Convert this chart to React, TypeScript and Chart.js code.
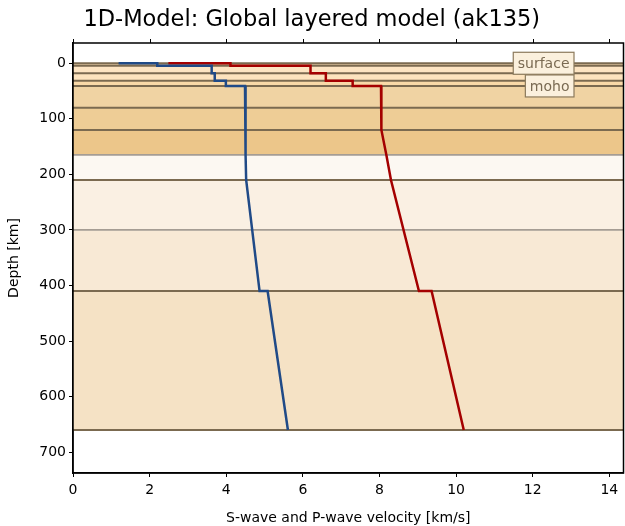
import React, { useEffect, useRef } from "react";
import { Chart, registerables } from "chart.js";

Chart.register(...registerables);

// Layer boundaries (depth, km) and their fills
const layerDepths = [0, 4.3, 18, 31.3, 40.8, 80, 120, 165, 210, 300, 410, 660];
const layerFills = [
  "#f1d6ab",
  "#fde4c2",
  "#fde3be",
  "#f9d9a8",
  "#f0d3a3",
  "#eecd96",
  "#ecc68a",
  "#fcf8f2",
  "#faf0e3",
  "#f8e9d5",
  "#f5e2c5",
];
const boundaryStrong = [true, true, true, true, true, true, true, false, true, false, true, true];

// Profiles: velocity (km/s) vs depth (km)
const profileDepth = [0, 0, 4.3, 4.3, 18, 18, 31.3, 31.3, 40.8, 40.8, 120, 165, 210, 410, 410, 660];
const vsVelocity = [1.19, 2.2, 2.2, 3.62, 3.62, 3.7, 3.7, 3.99, 3.99, 4.49, 4.5, 4.51, 4.52, 4.87, 5.08, 5.61];
const vpVelocity = [2.49, 4.11, 4.11, 6.2, 6.2, 6.6, 6.6, 7.3, 7.3, 8.04, 8.05, 8.18, 8.3, 9.03, 9.36, 10.2];

const xTicks = [0, 2, 4, 6, 8, 10, 12, 14];
const yTicks = [0, 100, 200, 300, 400, 500, 600, 700];

const markerNames = ["surface", "moho"];
const markerDepths = [0, 40.8];

const FONT = "'DejaVu Sans', sans-serif";

const layersPlugin = {
  id: "layers",
  beforeDatasetsDraw(chart: any) {
    const { ctx, chartArea } = chart;
    const y = chart.scales.y;
    ctx.save();
    for (let i = 0; i < layerFills.length; i++) {
      const y0 = y.getPixelForValue(layerDepths[i]);
      const y1 = y.getPixelForValue(layerDepths[i + 1]);
      ctx.fillStyle = layerFills[i];
      ctx.fillRect(chartArea.left, y0, chartArea.right - chartArea.left, y1 - y0);
    }
    for (let i = 0; i < layerDepths.length; i++) {
      const yy = y.getPixelForValue(layerDepths[i]);
      ctx.strokeStyle = boundaryStrong[i] ? "#7b6a50" : "#a59d94";
      ctx.lineWidth = boundaryStrong[i] ? 2 : 1.8;
      ctx.beginPath();
      ctx.moveTo(chartArea.left, yy);
      ctx.lineTo(chartArea.right, yy);
      ctx.stroke();
    }
    ctx.restore();
  },
  afterDatasetsDraw(chart: any) {
    const { ctx, chartArea } = chart;
    const y = chart.scales.y;
    ctx.save();
    ctx.font = `14px ${FONT}`;
    ctx.textBaseline = "middle";
    const right = chartArea.right - 49.5;
    for (let i = 0; i < markerNames.length; i++) {
      const yy = y.getPixelForValue(markerDepths[i]);
      const w = ctx.measureText(markerNames[i]).width + 9;
      const h = 22;
      ctx.fillStyle = "#fbf0dd";
      ctx.fillRect(right - w, yy - h / 2, w, h);
      ctx.strokeStyle = "#8c7a5c";
      ctx.lineWidth = 1.2;
      ctx.strokeRect(right - w, yy - h / 2, w, h);
      ctx.fillStyle = "#7a6a52";
      ctx.textAlign = "center";
      ctx.fillText(markerNames[i], right - w / 2, yy + 1);
    }
    ctx.restore();
  },
  afterDraw(chart: any) {
    const { ctx, chartArea } = chart;
    const x = chart.scales.x;
    ctx.save();
    ctx.strokeStyle = "#000";
    ctx.lineWidth = 1.5;
    ctx.strokeRect(chartArea.left, chartArea.top, chartArea.right - chartArea.left, chartArea.bottom - chartArea.top);
    ctx.lineWidth = 1;
    for (const t of xTicks) {
      const px = Math.round(x.getPixelForValue(t)) + 0.5;
      ctx.beginPath();
      ctx.moveTo(px, chartArea.top);
      ctx.lineTo(px, chartArea.top - 4);
      ctx.stroke();
    }
    ctx.restore();
  },
};

export default function App() {
  const ref = useRef<HTMLCanvasElement>(null);
  useEffect(() => {
    document.body.style.margin = "0";
    const canvas = ref.current;
    if (!canvas) return;
    const chart = new Chart(canvas, {
      type: "scatter",
      data: {
        datasets: [
          {
            label: "Vs",
            data: profileDepth.map((d, i) => ({ x: vsVelocity[i], y: d })),
            showLine: true,
            borderColor: "#204a87",
            borderWidth: 2.5,
            pointRadius: 0,
            fill: false,
          },
          {
            label: "Vp",
            data: profileDepth.map((d, i) => ({ x: vpVelocity[i], y: d })),
            showLine: true,
            borderColor: "#a40000",
            borderWidth: 2.5,
            pointRadius: 0,
            fill: false,
          },
        ],
      },
      options: {
        animation: false,
        responsive: false,
        maintainAspectRatio: false,
        layout: { padding: { top: 0, left: 0, right: 1.5, bottom: 0 } },
        plugins: {
          legend: { display: false },
          tooltip: { enabled: false },
          title: {
            display: true,
            text: "1D-Model: Global layered model (ak135)",
            color: "#000",
            font: { family: FONT, size: 22.5, weight: "normal", lineHeight: 1.2 },
            padding: { top: 7, bottom: 9 },
          },
        },
        scales: {
          x: {
            type: "linear",
            position: "bottom",
            min: 0,
            max: 14.37,
            afterBuildTicks: (s: any) => {
              s.ticks = xTicks.map((v) => ({ value: v }));
            },
            afterFit: (s: any) => {
              s.height = 53;
            },
            ticks: {
              color: "#000",
              font: { family: FONT, size: 14 },
              padding: 5,
              callback: (v: any) => String(v),
            },
            grid: { drawOnChartArea: false, drawTicks: true, tickLength: 4, color: "#000", lineWidth: 1 },
            border: { display: true, color: "#000", width: 1.5 },
            title: {
              display: true,
              text: "S-wave and P-wave velocity [km/s]",
              color: "#000",
              font: { family: FONT, size: 14, lineHeight: 1.1 },
              padding: { top: 0, bottom: 0 },
            },
          },
          y: {
            type: "linear",
            reverse: true,
            min: -36.5,
            max: 737.5,
            afterBuildTicks: (s: any) => {
              s.ticks = yTicks.map((v) => ({ value: v }));
            },
            afterFit: (s: any) => {
              s.width = 73;
            },
            ticks: {
              color: "#000",
              font: { family: FONT, size: 14 },
              padding: 3,
              callback: (v: any) => String(v),
            },
            grid: { drawOnChartArea: false, drawTicks: true, tickLength: 4, color: "#000", lineWidth: 1 },
            border: { display: true, color: "#000", width: 1.5 },
            title: {
              display: true,
              text: "Depth [km]",
              color: "#000",
              font: { family: FONT, size: 14 },
              padding: { top: 6, bottom: 0 },
            },
          },
        },
      },
      plugins: [layersPlugin],
    } as any);
    return () => chart.destroy();
  }, []);
  return (
    <div style={{ width: 625, height: 526 }}>
      <canvas ref={ref} width={625} height={526} style={{ display: "block" }} />
    </div>
  );
}
